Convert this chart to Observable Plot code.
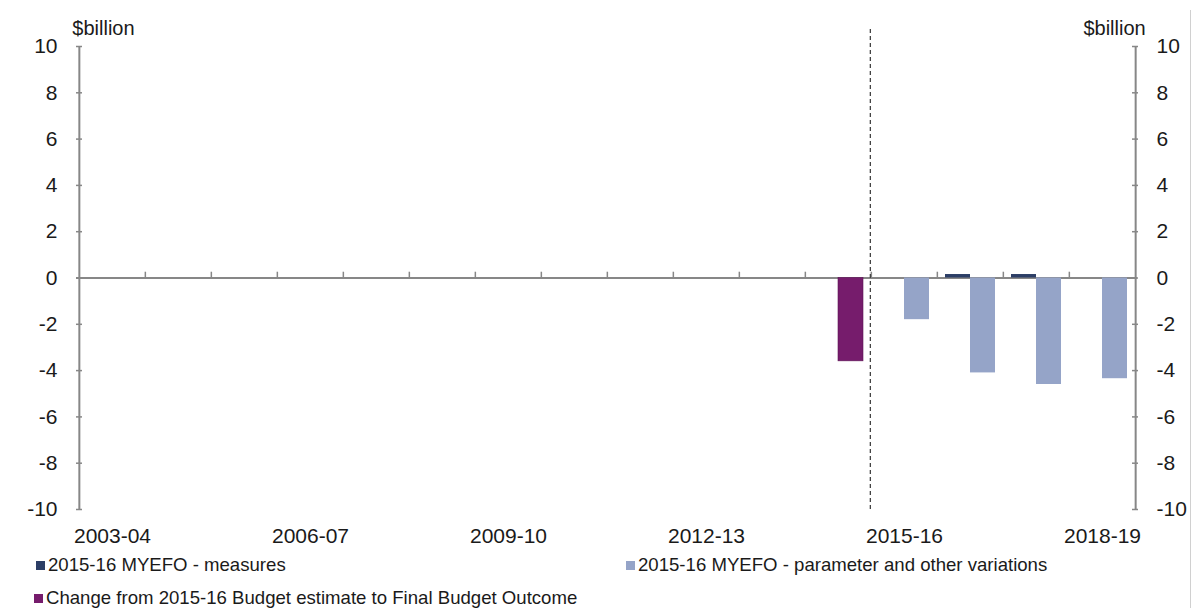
<!DOCTYPE html>
<html>
<head>
<meta charset="utf-8">
<script src="https://cdn.jsdelivr.net/npm/d3@7"></script>
<script src="https://cdn.jsdelivr.net/npm/@observablehq/plot@0.6"></script>
<style>
  html, body { margin: 0; padding: 0; background: #fff; }
  body { width: 1192px; height: 608px; position: relative; overflow: hidden;
         font-family: "Liberation Sans", Arial, sans-serif; color: #1a1a1a; }
  #edge { position: absolute; left: 1190px; top: 10px; width: 1px; height: 598px; background: #d0d0d0; }
  .legend { position: absolute; font-size: 18.6px; line-height: 20px; white-space: nowrap; }
  .legend .sw { display: inline-block; width: 9px; height: 9px; margin-right: 3px; vertical-align: 1px; }
</style>
</head>
<body>
<div id="chart"></div>
<div id="edge"></div>
<div id="legend"></div>
<script>
// Financial years on the category axis
const years = ["2003-04","2004-05","2005-06","2006-07","2007-08","2008-09","2009-10","2010-11",
               "2011-12","2012-13","2013-14","2014-15","2015-16","2016-17","2017-18","2018-19"];
const yearLabels = ["2003-04","2006-07","2009-10","2012-13","2015-16","2018-19"];
const yTicks = [-10, -8, -6, -4, -2, 0, 2, 4, 6, 8, 10];

// Series ($billion)
const measuresYears = ["2015-16","2016-17","2017-18","2018-19"];
const measuresValues = [0.0, 0.15, 0.15, 0.0];
const paramYears = ["2015-16","2016-17","2017-18","2018-19"];
const paramValues = [-1.8, -4.1, -4.6, -4.35];
const outcomeYears = ["2014-15"];
const outcomeValues = [-3.6];

const seriesNames = [
  "2015-16 MYEFO - measures",
  "2015-16 MYEFO - parameter and other variations",
  "Change from 2015-16 Budget estimate to Final Budget Outcome"
];
const seriesColors = ["#2c3e66", "#95a4c8", "#761c6c"];
const forecastStart = "2015-16";
const unitLabel = "$billion";

const measures = measuresYears.map((y, i) => ({year: y, value: measuresValues[i]}));
const params = paramYears.map((y, i) => ({year: y, value: paramValues[i]}));
const outcome = outcomeYears.map((y, i) => ({year: y, value: outcomeValues[i]}));

const W = 1192, H = 550;
const mL = 76, mR = 55, mT = 46, mB = 41;
const step = (W - mL - mR) / years.length;
const half = step / 2;
const axisColor = "#878787";
const textColor = "#1a1a1a";
const axisFont = 21;

const chart = Plot.plot({
  width: W,
  height: H,
  marginLeft: mL,
  marginRight: mR,
  marginTop: mT,
  marginBottom: mB,
  style: {fontFamily: "Liberation Sans, Arial, sans-serif", fontSize: "21px", color: textColor, overflow: "visible"},
  x: {type: "band", domain: years, padding: 0, axis: null},
  y: {domain: [-10, 10], axis: null},
  marks: [
    // zero line
    Plot.ruleY([0], {stroke: axisColor, strokeWidth: 2}),
    // category boundary ticks on the zero line
    Plot.ruleX(years.slice(1), {x: d => d, y1: 0, y2: 0.25, dx: -half, stroke: axisColor, strokeWidth: 1.5}),
    // left and right value axes
    Plot.ruleX([years[0]], {x: d => d, y1: -10, y2: 10, dx: -half, stroke: axisColor, strokeWidth: 2}),
    Plot.ruleX([years[years.length - 1]], {x: d => d, y1: -10, y2: 10, dx: half, stroke: axisColor, strokeWidth: 2}),
    Plot.axisY(yTicks, {anchor: "left", tickSize: -6, tickPadding: 25, tickFormat: d => String(d),
      stroke: axisColor, strokeWidth: 1.5, fill: textColor, fontSize: axisFont, label: null}),
    Plot.axisY(yTicks, {anchor: "right", tickSize: -6, tickPadding: 25, tickFormat: d => String(d),
      stroke: axisColor, strokeWidth: 1.5, fill: textColor, fontSize: axisFont, label: null}),
    // bars
    Plot.barY(measures, {x: "year", y: "value", fill: seriesColors[0], insetLeft: 8, insetRight: 33}),
    Plot.barY(params, {x: "year", y: "value", fill: seriesColors[1], insetLeft: 33, insetRight: 8}),
    Plot.barY(outcome, {x: "year", y: "value", fill: seriesColors[2], stroke: "#5d1455", strokeWidth: 0.6, insetLeft: 33, insetRight: 8}),
    // forecast divider
    Plot.ruleX([forecastStart], {x: d => d, y1: -10, y2: 10.8, dx: -half - 1, stroke: "#444", strokeWidth: 1.3, strokeDasharray: "4,3"}),
    // category labels
    Plot.text(yearLabels, {x: d => d, y: -10, dy: 27, text: d => d, fill: textColor, fontSize: axisFont}),
    // unit labels
    Plot.text([unitLabel], {x: () => years[0], y: () => 10, dx: -half - 7, dy: -18, text: d => d,
      textAnchor: "start", fill: textColor, fontSize: 20}),
    Plot.text([unitLabel], {x: () => years[years.length - 1], y: () => 10, dx: half + 10, dy: -18, text: d => d,
      textAnchor: "end", fill: textColor, fontSize: 20})
  ]
});
document.getElementById("chart").appendChild(chart);

// Legend beneath the plot
const legend = document.getElementById("legend");
const legendPos = [[36, 555], [626, 555], [34, 588]];
seriesNames.forEach((name, i) => {
  const item = document.createElement("div");
  item.className = "legend";
  item.style.left = legendPos[i][0] + "px";
  item.style.top = legendPos[i][1] + "px";
  const sw = document.createElement("span");
  sw.className = "sw";
  sw.style.background = seriesColors[i];
  item.appendChild(sw);
  item.appendChild(document.createTextNode(name));
  legend.appendChild(item);
});
</script>
</body>
</html>
